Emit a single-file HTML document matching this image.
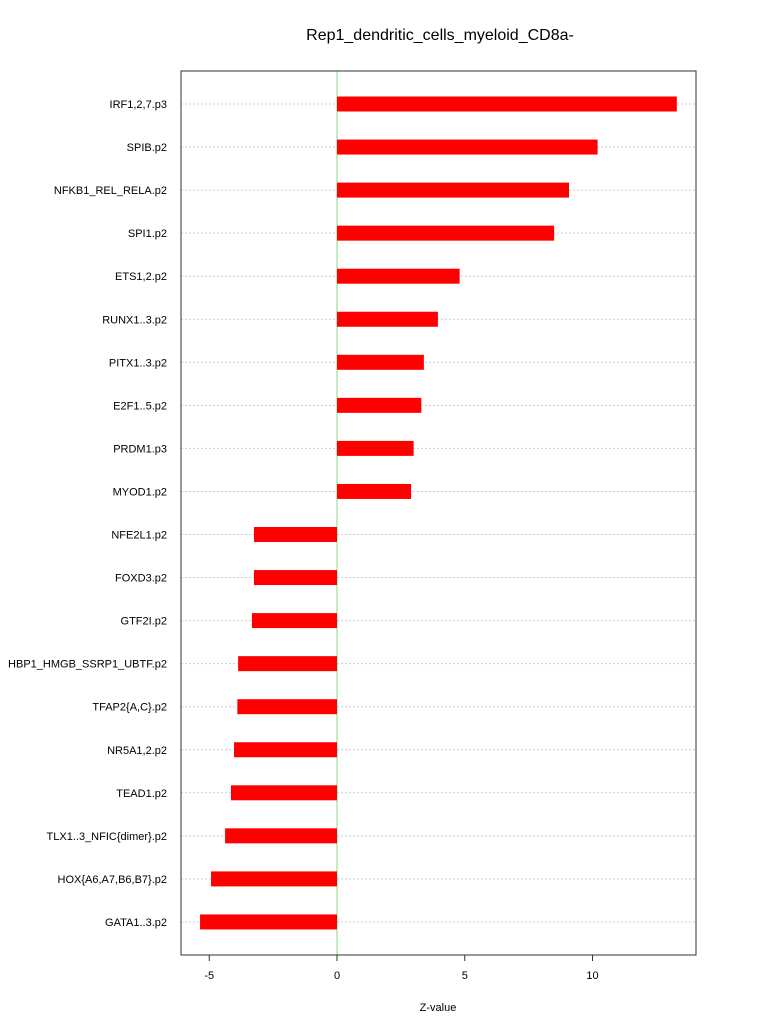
<!DOCTYPE html>
<html><head><meta charset="utf-8"><style>
body{margin:0;background:#fff;font-family:"Liberation Sans",sans-serif;}
</style></head><body>
<svg id="chart" width="768" height="1028" xmlns="http://www.w3.org/2000/svg" font-family="Liberation Sans, sans-serif"></svg>
<script>
const labels=["IRF1,2,7.p3","SPIB.p2","NFKB1_REL_RELA.p2","SPI1.p2","ETS1,2.p2","RUNX1..3.p2","PITX1..3.p2","E2F1..5.p2","PRDM1.p3","MYOD1.p2","NFE2L1.p2","FOXD3.p2","GTF2I.p2","HBP1_HMGB_SSRP1_UBTF.p2","TFAP2{A,C}.p2","NR5A1,2.p2","TEAD1.p2","TLX1..3_NFIC{dimer}.p2","HOX{A6,A7,B6,B7}.p2","GATA1..3.p2"];
const values=[13.3,10.2,9.08,8.5,4.8,3.95,3.4,3.3,3.0,2.9,-3.25,-3.25,-3.33,-3.87,-3.9,-4.03,-4.15,-4.38,-4.93,-5.36];
const ticks=[-5,0,5,10];
const NS="http://www.w3.org/2000/svg",svg=document.getElementById('chart');
const L=181,R=696,T=71,B=955;
const x=v=>337+v*25.55;
const y=i=>104+i*43.05;
function mk(t,a,p){const e=document.createElementNS(NS,t);for(const k in a)e.setAttribute(k,a[k]);(p||svg).appendChild(e);return e;}
let e=mk('text',{x:440,y:40,'text-anchor':'middle','font-size':16});e.textContent="Rep1_dendritic_cells_myeloid_CD8a-";


labels.forEach((lab,i)=>{
 let g=mk('line',{x1:L,x2:R,y1:y(i),y2:y(i),stroke:'#ccc','stroke-dasharray':'2,2'});
 
 
 let t=mk('text',{x:L-14,y:y(i)+4,'text-anchor':'end','font-size':11});t.textContent=lab;
 
 
});
mk('line',{x1:x(0),x2:x(0),y1:T,y2:B,stroke:'#88d888'});
values.forEach((v,i)=>{
 let b=mk('rect',{x:Math.min(x(0),x(v)),y:y(i)-7.5,width:Math.abs(x(v)-x(0)),height:15,fill:'#ff0000'});
 
 
});
let box=mk('rect',{x:L,y:T,width:R-L,height:B-T,fill:'none',stroke:'#333'});


ticks.forEach(tk=>{
 mk('line',{x1:x(tk),x2:x(tk),y1:B,y2:B+6,stroke:'#333'});
 let t=mk('text',{x:x(tk),y:B+24,'text-anchor':'middle','font-size':11});t.textContent=tk;
 
 
});
mk('line',{x1:x(-5),x2:x(10),y1:B,y2:B,stroke:'#333'});
e=mk('text',{x:438,y:1011,'text-anchor':'middle','font-size':11});e.textContent="Z-value";


</script>
</body></html>
